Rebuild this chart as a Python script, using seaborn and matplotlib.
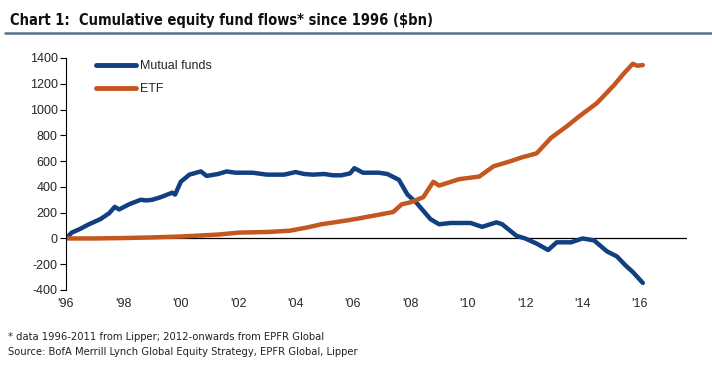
import pandas as pd
import matplotlib.pyplot as plt
import seaborn as sns

# values ($bn), x in fractional years
mf_year = [1996.0, 1996.2, 1996.5, 1996.8, 1997.2, 1997.5, 1997.7, 1997.85, 1998.2, 1998.6,
           1998.8, 1999.0, 1999.3, 1999.7, 1999.8, 2000.0, 2000.3, 2000.7, 2000.9, 2001.3,
           2001.6, 2001.9, 2002.5, 2003.0, 2003.6, 2004.0, 2004.3, 2004.6, 2005.0, 2005.3,
           2005.6, 2005.9, 2006.05, 2006.35, 2006.9, 2007.2, 2007.6, 2007.9, 2008.2, 2008.7,
           2009.0, 2009.4, 2010.1, 2010.5, 2011.0, 2011.2, 2011.7, 2012.0, 2012.4, 2012.8,
           2013.1, 2013.6, 2014.0, 2014.4, 2014.85, 2015.2, 2015.5, 2015.75, 2016.1]
mf_flow = [0, 45, 75, 110, 150, 195, 245, 225, 265, 300,
           295, 300, 320, 355, 340, 440, 495, 520, 485, 500,
           520, 510, 510, 495, 495, 515, 500, 495, 500, 490,
           490, 505, 545, 510, 510, 500, 455, 340, 280, 150,
           110, 120, 120, 90, 125, 110, 20, 0, -40, -90,
           -30, -30, 0, -15, -100, -140, -210, -260, -345]

etf_year = [1996.0, 1997.0, 1998.0, 1999.0, 2000.0, 2001.3, 2002.0, 2003.0, 2003.8, 2004.4,
            2004.9, 2005.8, 2006.2, 2006.8, 2007.4, 2007.7, 2008.0, 2008.45, 2008.8, 2009.0,
            2009.7, 2010.4, 2010.9, 2011.5, 2011.9, 2012.4, 2012.9, 2013.45, 2013.9, 2014.5,
            2015.1, 2015.4, 2015.75, 2015.9, 2016.1]
etf_flow = [0, 0, 3, 8, 15, 30, 45, 50, 60, 85,
            110, 140, 155, 180, 205, 265, 280, 320, 440, 410,
            460, 480, 560, 600, 630, 660, 780, 870, 950, 1050,
            1190, 1270, 1355, 1340, 1345]

y_ticks = [-400, -200, 0, 200, 400, 600, 800, 1000, 1200, 1400]
x_ticks = list(range(1996, 2017, 2))
x_labels = ["'%02d" % (y % 100) for y in x_ticks]

df = pd.concat([
    pd.DataFrame({'year': mf_year, 'flow': mf_flow, 'fund': 'Mutual funds'}),
    pd.DataFrame({'year': etf_year, 'flow': etf_flow, 'fund': 'ETF'}),
])

sns.set_style('white')
plt.rcParams['font.family'] = ['Liberation Sans', 'DejaVu Sans']
plt.rcParams['axes.unicode_minus'] = False

fig = plt.figure(figsize=(7.12, 3.71), dpi=100)
ax = fig.add_axes([66 / 712, 1 - 290 / 371, (687 - 66) / 712, (290 - 58) / 371])

sns.lineplot(data=df, x='year', y='flow', hue='fund', sort=False, ax=ax,
             palette={'Mutual funds': '#123f7f', 'ETF': '#c4561f'}, linewidth=3.2)

ax.axhline(0, color='black', lw=0.9, zorder=1)
ax.set_xlim(1996, 2017.64)
ax.set_ylim(-400, 1400)
ax.set_yticks(y_ticks)
ax.set_xticks(x_ticks)
ax.set_xticklabels(x_labels)
ax.tick_params(axis='y', direction='out', length=4, width=0.8, color='black', labelsize=9, pad=2, left=True)
ax.tick_params(axis='x', length=0, labelsize=9, pad=6)
for s in ['top', 'right', 'bottom']:
    ax.spines[s].set_visible(False)
ax.spines['left'].set_color('black')
ax.spines['left'].set_linewidth(0.8)
ax.set_xlabel('')
ax.set_ylabel('')

leg = ax.legend(loc='upper left', bbox_to_anchor=(0.03, 1.04), frameon=False, fontsize=9,
                handlelength=3.2, handletextpad=0.3, labelspacing=0.9)
for h in leg.get_lines():
    h.set_linewidth(3.5)

fig.text(10 / 712, 1 - 21 / 371, 'Chart 1:  Cumulative equity fund flows* since 1996 ($bn)',
         fontsize=10.5, fontweight='bold', family='DejaVu Sans', fontstretch='condensed',
         va='center', color='#111111')
fig.add_artist(plt.Line2D([5 / 712, 1.0], [1 - 32.5 / 371, 1 - 32.5 / 371], color='#5b7089', lw=1.8))
fig.text(8 / 712, 1 - 337 / 371, '* data 1996-2011 from Lipper; 2012-onwards from EPFR Global',
         fontsize=8, family='DejaVu Sans', fontstretch='condensed', va='center', color='#222222')
fig.text(8 / 712, 1 - 352 / 371, 'Source: BofA Merrill Lynch Global Equity Strategy, EPFR Global, Lipper',
         fontsize=8, family='DejaVu Sans', fontstretch='condensed', va='center', color='#222222')

fig.savefig('out.png', dpi=100)
